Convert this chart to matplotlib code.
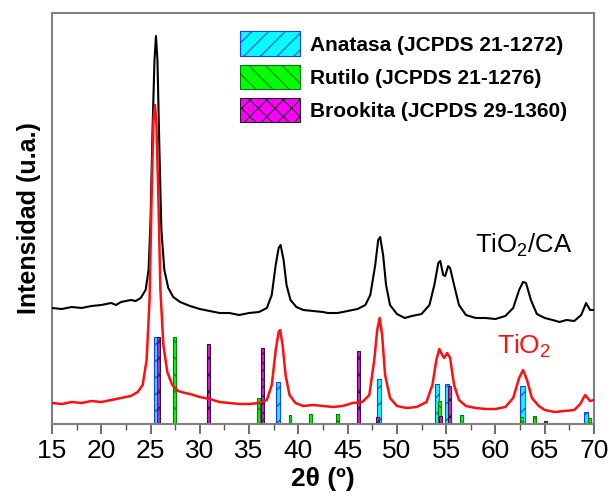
import matplotlib
matplotlib.use("Agg")
import matplotlib.pyplot as plt
from matplotlib.patches import Patch
from matplotlib.ticker import MultipleLocator

plt.rcParams['font.family'] = ['Liberation Sans', 'DejaVu Sans']
plt.rcParams['mathtext.fontset'] = 'custom'
plt.rcParams['mathtext.rm'] = 'Liberation Sans'
plt.rcParams['mathtext.it'] = 'Liberation Sans:italic'
plt.rcParams['mathtext.bf'] = 'Liberation Sans:bold'
plt.rcParams['hatch.linewidth'] = 0.8

# ---- TiO2/CA diffractogram (2theta, intensity a.u.) ----
ca_x = [15, 16, 17, 18, 19, 20, 21, 21.5, 22, 23, 23.5, 24, 24.5, 24.8, 25.0, 25.2, 25.4,
        25.55, 25.7, 25.9, 26.1, 26.4, 26.8, 27.3, 28, 29, 30, 31, 32, 33, 34, 35, 36,
        36.8, 37.3, 37.7, 38.0, 38.2, 38.5, 38.8, 39.2, 39.8, 40.5, 41.5, 42.5, 43, 44,
        45, 46, 46.8, 47.3, 47.8, 48.1, 48.3, 48.6, 48.9, 49.3, 50, 50.8, 51.5, 52.5,
        53.3, 53.8, 54.2, 54.4, 54.7, 54.9, 55.2, 55.4, 55.8, 56.3, 57, 58, 59, 60, 61,
        61.8, 62.4, 62.8, 63.1, 63.6, 64.2, 65, 65.8, 66.5, 67.2, 68, 68.7, 69.2, 69.6, 70]
ca_y = [116, 115, 117, 116, 118, 119, 121, 119, 122, 124, 123, 126, 134, 154, 204, 294, 364,
        388, 364, 274, 194, 154, 136, 127, 122, 118, 115, 113, 111, 111, 109, 111, 112,
        116, 129, 159, 176, 179, 164, 139, 124, 117, 114, 113, 112, 111, 111,
        113, 115, 119, 129, 159, 184, 187, 169, 139, 119, 110, 106, 108, 110,
        119, 139, 161, 163, 149, 148, 158, 156, 139, 119, 109, 106, 106, 105, 108,
        116, 134, 142, 141, 124, 110, 106, 104, 102, 104, 103, 109, 121, 114, 114]

# ---- TiO2 diffractogram ----
ti_x = [15, 16, 17, 18, 19, 20, 21, 22, 23, 23.7, 24.2, 24.6, 24.9, 25.1, 25.3, 25.45,
        25.6, 25.8, 26.0, 26.3, 26.7, 27.2, 27.8, 28.5, 29, 30, 31, 32, 33, 34, 35, 36,
        36.8, 37.3, 37.7, 38.0, 38.15, 38.4, 38.7, 39.1, 39.7, 40.5, 41.5, 42.5, 43.5,
        44.5, 45.5, 46.5, 47.2, 47.7, 48.0, 48.25, 48.5, 48.8, 49.3, 50, 51, 52, 53,
        53.6, 54.0, 54.3, 54.6, 54.8, 55.1, 55.4, 55.8, 56.3, 57, 58, 59, 60, 61, 61.8,
        62.4, 62.8, 63.2, 63.7, 64.4, 65, 66, 67, 68, 68.6, 69.1, 69.6, 70]
ti_y = [21, 20, 22, 21, 23, 22, 24, 26, 28, 32, 39, 64, 124, 224, 304, 319,
        299, 224, 134, 79, 52, 39, 33, 31, 30, 27, 25, 22, 21, 20, 20, 21,
        24, 39, 74, 92, 94, 79, 49, 29, 21, 18, 19, 18, 17,
        18, 21, 22, 29, 64, 94, 106, 89, 49, 26, 18, 16, 17, 22,
        39, 64, 75, 69, 66, 71, 66, 39, 24, 18, 16, 15, 15, 17, 26,
        46, 54, 44, 26, 18, 14, 12, 13, 14, 20, 29, 23, 24]

# ---- JCPDS reference lines ----
anatase_pos = [25.55, 37.95, 48.15, 54.1, 55.1, 62.75, 69.2]
anatase_h = [87, 42, 45, 40, 40, 38, 12]
rutile_pos = [27.45, 36.0, 39.15, 41.2, 43.95, 54.3, 56.6, 62.6, 63.95, 69.55]
rutile_h = [87, 26, 9, 10, 10, 23, 9, 7, 8, 6]
brookite_pos = [25.8, 30.85, 36.35, 46.15, 48.05, 54.4, 55.3, 65.1]
brookite_h = [87, 80, 76, 73, 7, 8, 38, 3]

labels = ['Anatasa (JCPDS 21-1272)', 'Rutilo (JCPDS 21-1276)', 'Brookita (JCPDS 29-1360)']
xticks = [15, 20, 25, 30, 35, 40, 45, 50, 55, 60, 65, 70]

fig = plt.figure(figsize=(6.08, 5.01), dpi=100)
ax = fig.add_axes([52/608, 1-424/501, (594-52)/608, (424-13)/501])

an_style = dict(facecolor='#00FFFF', edgecolor='#1E3CFF', hatch='//', linewidth=0.8)
ru_style = dict(facecolor='#00FF00', edgecolor='#007A00', hatch='\\\\', linewidth=0.8)
br_style = dict(facecolor='#FF00FF', edgecolor='#202020', hatch='xx', linewidth=0.8)

ax.bar(anatase_pos, anatase_h, width=0.42, zorder=2, **an_style)
ax.bar(rutile_pos, rutile_h, width=0.3, zorder=2, **ru_style)
ax.bar(brookite_pos, brookite_h, width=0.3, zorder=2, **br_style)

ax.plot(ca_x, ca_y, color='black', lw=1.5, zorder=3)
ax.plot(ti_x, ti_y, color='#FF1010', lw=1.8, zorder=3)

ax.set_xlim(15, 70)
ax.set_ylim(0, 411)
ax.set_yticks([])
ax.set_xticks(xticks)
ax.xaxis.set_minor_locator(MultipleLocator(2.5))
ax.tick_params(axis='x', which='major', length=7, width=1.2, color='#555555', pad=4,
               labelsize=19)
ax.tick_params(axis='x', which='minor', length=4, width=1.0, color='#555555')
for s in ax.spines.values():
    s.set_color('#808080')
    s.set_linewidth(1.5)

ax.set_xlabel('2θ (º)', fontsize=19, fontweight='bold', labelpad=3)
ax.set_ylabel('Intensidad (u.a.)', fontsize=18, fontweight='bold', labelpad=8)

ax.text(57.9, 171, r'TiO$_2$/CA', fontsize=18.5, color='black', va='baseline', ha='left')
ax.text(60.15, 70, r'TiO$_2$', fontsize=19, color='#FF1010', va='baseline', ha='left')

handles = [Patch(**an_style), Patch(**ru_style), Patch(**br_style)]
leg = ax.legend(handles, labels, loc='upper left', bbox_to_anchor=(0.347, 0.955),
                frameon=False, prop={'family': 'Liberation Sans', 'weight': 'bold', 'size': 15},
                handlelength=2.9, handleheight=1.45, handletextpad=0.45, labelspacing=0.4,
                borderpad=0, borderaxespad=0)

fig.savefig('out.png', dpi=100)
